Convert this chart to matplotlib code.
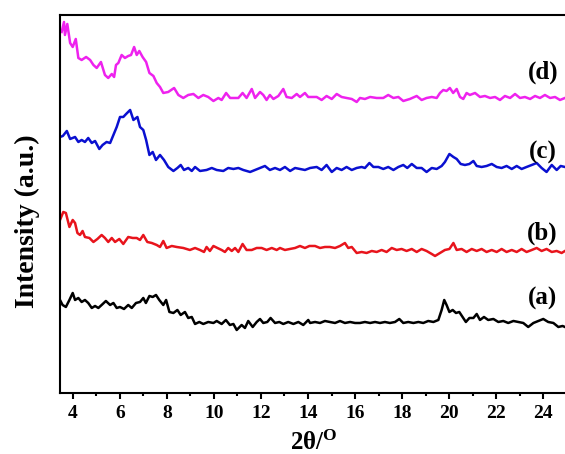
import matplotlib
matplotlib.use('Agg')
import matplotlib.pyplot as plt
from matplotlib.ticker import MultipleLocator
import numpy as np

# 数据: 2θ (度) 与强度 (a.u., 已加偏移)
a_2theta = [3.46, 3.57, 3.71, 3.86, 4.00, 4.10, 4.24, 4.38, 4.52, 4.66, 4.81, 4.95, 5.09, 5.23,
            5.41, 5.59, 5.73, 5.87, 6.01, 6.18, 6.36, 6.51, 6.69, 6.86, 7.00, 7.11, 7.26, 7.40,
            7.54, 7.68, 7.85, 7.97, 8.11, 8.28, 8.45, 8.59, 8.77, 8.91, 9.06, 9.20, 9.38, 9.55,
            9.76, 9.98, 10.12, 10.33, 10.51, 10.68, 10.83, 10.97, 11.18, 11.32, 11.46, 11.65,
            11.82, 11.96, 12.10, 12.27, 12.41, 12.60, 12.78, 12.95, 13.16, 13.38, 13.59, 13.80,
            14.01, 14.09, 14.30, 14.51, 14.72, 14.93, 15.15, 15.36, 15.57, 15.79, 16.00, 16.21,
            16.42, 16.64, 16.85, 17.06, 17.27, 17.48, 17.70, 17.88, 18.05, 18.26, 18.48, 18.69,
            18.90, 19.11, 19.33, 19.54, 19.68, 19.79, 19.89, 20.01, 20.15, 20.29, 20.43, 20.57,
            20.71, 20.86, 21.03, 21.17, 21.31, 21.48, 21.66, 21.88, 22.09, 22.30, 22.51, 22.73,
            22.94, 23.15, 23.36, 23.58, 23.79, 24.00, 24.21, 24.43, 24.64, 24.82, 24.92]
a_int = [93, 88, 86, 93, 100, 93, 95, 91, 93, 90, 85, 87, 85, 88,
         92, 88, 90, 85, 86, 84, 88, 85, 90, 91, 95, 90, 97, 96,
         98, 93, 88, 93, 81, 80, 83, 78, 81, 75, 76, 69, 71, 69,
         71, 70, 72, 69, 73, 68, 69, 63, 68, 65, 72, 66,
         71, 74, 70, 71, 75, 70, 71, 69, 71, 69, 71, 68,
         73, 70, 71, 70, 72, 71, 70, 72, 70, 71, 70, 70,
         71, 70, 71, 70, 71, 70, 71, 74, 70, 71, 70, 71,
         70, 72, 71, 73, 83, 93, 88, 81, 83, 80, 81, 76,
         71, 75, 75, 79, 73, 76, 73, 74, 71, 72, 70, 72,
         71, 70, 66, 70, 72, 74, 71, 70, 66, 67, 66]

b_2theta = [3.46, 3.60, 3.71, 3.86, 4.00, 4.10, 4.20, 4.31, 4.42, 4.52, 4.71, 4.88, 5.05, 5.23,
            5.37, 5.51, 5.66, 5.80, 5.98, 6.15, 6.36, 6.55, 6.72, 6.86, 7.00, 7.17, 7.36, 7.57,
            7.71, 7.85, 7.99, 8.21, 8.42, 8.70, 8.98, 9.20, 9.41, 9.58, 9.69, 9.83, 9.98, 10.15,
            10.33, 10.47, 10.61, 10.76, 10.90, 11.04, 11.22, 11.39, 11.61, 11.82, 12.03, 12.24,
            12.46, 12.67, 12.81, 13.02, 13.23, 13.45, 13.66, 13.87, 14.06, 14.30, 14.51, 14.72,
            14.93, 15.15, 15.36, 15.57, 15.71, 15.86, 16.07, 16.28, 16.49, 16.71, 16.92, 17.13,
            17.34, 17.56, 17.77, 17.98, 18.19, 18.41, 18.62, 18.83, 19.04, 19.26, 19.40, 19.61,
            19.82, 20.01, 20.18, 20.32, 20.53, 20.74, 20.96, 21.17, 21.38, 21.59, 21.81, 22.02,
            22.23, 22.44, 22.66, 22.87, 23.08, 23.29, 23.51, 23.72, 23.93, 24.14, 24.36, 24.57,
            24.78, 24.92]
b_int = [173, 181, 180, 166, 173, 170, 160, 158, 162, 156, 155, 151, 154, 158,
         155, 151, 155, 151, 154, 149, 156, 155, 155, 153, 158, 151, 150, 148,
         146, 152, 145, 147, 146, 145, 143, 145, 143, 141, 146, 142, 147, 145,
         143, 141, 145, 142, 145, 141, 149, 143, 143, 145, 145, 143,
         145, 143, 145, 143, 144, 145, 147, 145, 147, 147, 145, 146,
         146, 145, 147, 150, 145, 146, 140, 141, 140, 142, 141, 143,
         141, 145, 143, 144, 142, 144, 141, 144, 142, 139, 137, 140,
         143, 144, 150, 143, 144, 141, 144, 142, 144, 141, 143, 141,
         144, 141, 143, 141, 144, 141, 143, 145, 142, 144, 141, 142,
         140, 142]

c_2theta = [3.46, 3.58, 3.75, 3.89, 4.10, 4.24, 4.38, 4.52, 4.66, 4.81, 4.95, 5.13, 5.27, 5.44,
            5.59, 5.73, 5.87, 6.01, 6.15, 6.27, 6.44, 6.58, 6.75, 6.86, 7.00, 7.12, 7.26, 7.40,
            7.54, 7.71, 7.88, 8.06, 8.28, 8.45, 8.59, 8.73, 8.91, 9.06, 9.20, 9.41, 9.69, 9.91,
            10.12, 10.40, 10.61, 10.83, 11.04, 11.25, 11.54, 11.75, 11.96, 12.17, 12.38, 12.60,
            12.81, 13.02, 13.24, 13.45, 13.66, 13.87, 14.09, 14.37, 14.58, 14.79, 15.01, 15.22,
            15.43, 15.64, 15.86, 16.07, 16.28, 16.42, 16.61, 16.78, 16.99, 17.20, 17.41, 17.63,
            17.84, 18.05, 18.22, 18.41, 18.62, 18.83, 19.04, 19.26, 19.47, 19.68, 19.82, 20.01,
            20.18, 20.32, 20.49, 20.67, 20.86, 21.03, 21.17, 21.38, 21.59, 21.81, 22.02, 22.23,
            22.44, 22.66, 22.87, 23.08, 23.29, 23.51, 23.72, 23.93, 24.14, 24.36, 24.57, 24.74,
            24.92]
c_int = [256, 257, 262, 254, 256, 251, 253, 251, 255, 250, 252, 244, 248, 251,
         250, 258, 266, 276, 276, 279, 283, 273, 276, 266, 263, 253, 238, 241,
         233, 238, 233, 226, 222, 225, 228, 223, 225, 222, 226, 222, 223, 225,
         223, 222, 225, 224, 225, 223, 221, 223, 225, 227, 223, 225,
         223, 226, 222, 225, 224, 223, 225, 226, 223, 228, 221, 225,
         223, 226, 223, 225, 226, 225, 230, 226, 226, 224, 226, 223,
         226, 228, 225, 229, 225, 225, 221, 225, 224, 227, 231, 239,
         236, 234, 229, 228, 229, 232, 227, 226, 227, 229, 226, 225,
         227, 224, 227, 224, 226, 228, 230, 225, 221, 228, 223, 227,
         226]

d_2theta = [3.53, 3.63, 3.67, 3.77, 3.89, 4.00, 4.13, 4.24, 4.38, 4.57, 4.74, 4.88, 5.02, 5.20,
            5.37, 5.51, 5.66, 5.76, 5.84, 5.94, 6.08, 6.22, 6.36, 6.48, 6.61, 6.72, 6.83, 6.97,
            7.12, 7.26, 7.43, 7.57, 7.71, 7.85, 8.06, 8.31, 8.49, 8.70, 8.91, 9.13, 9.34, 9.55,
            9.76, 9.98, 10.19, 10.33, 10.52, 10.69, 10.90, 11.04, 11.22, 11.39, 11.61, 11.75,
            11.96, 12.10, 12.24, 12.38, 12.53, 12.74, 12.95, 13.09, 13.31, 13.52, 13.66, 13.87,
            14.01, 14.37, 14.58, 14.79, 15.01, 15.22, 15.43, 15.64, 15.86, 16.07, 16.21, 16.42,
            16.64, 16.92, 17.20, 17.41, 17.63, 17.84, 18.05, 18.33, 18.62, 18.83, 19.04, 19.26,
            19.47, 19.61, 19.75, 19.89, 20.03, 20.17, 20.32, 20.46, 20.60, 20.74, 20.88, 21.10,
            21.31, 21.52, 21.74, 21.95, 22.16, 22.37, 22.59, 22.80, 23.01, 23.22, 23.44, 23.65,
            23.86, 24.07, 24.29, 24.50, 24.71, 24.92]
d_int = [361, 371, 358, 369, 350, 346, 354, 335, 333, 336, 333, 328, 325, 331,
         318, 315, 319, 316, 328, 330, 338, 335, 337, 338, 346, 338, 342, 336,
         331, 320, 317, 310, 306, 300, 301, 305, 298, 295, 298, 299, 295, 298,
         296, 292, 295, 293, 300, 295, 295, 295, 300, 295, 304, 295,
         301, 298, 293, 298, 294, 297, 304, 296, 295, 299, 296, 300,
         296, 296, 293, 297, 294, 299, 296, 295, 294, 291, 295, 294,
         296, 295, 295, 298, 295, 296, 292, 294, 297, 293, 295, 296,
         295, 300, 303, 302, 305, 300, 304, 296, 294, 300, 298, 300,
         296, 297, 295, 296, 293, 297, 295, 299, 295, 296, 294, 297,
         295, 298, 295, 296, 293, 295]

labels = ['(a)', '(b)', '(c)', '(d)']
colors = ['#000000', '#E8141C', '#0A10D0', '#EE22EE']

# 字体: Times 风格粗体
plt.rcParams['font.family'] = ['Liberation Serif', 'DejaVu Serif']
plt.rcParams['font.weight'] = 'bold'
plt.rcParams['mathtext.fontset'] = 'custom'
plt.rcParams['mathtext.rm'] = 'Liberation Serif:bold'
plt.rcParams['mathtext.bf'] = 'Liberation Serif:bold'
plt.rcParams['mathtext.it'] = 'Liberation Serif:bold'

fig = plt.figure(figsize=(5.65, 4.54), dpi=100)
ax = fig.add_axes([0.1062, 0.1344, 0.897, 0.8326])

series = [(a_2theta, a_int), (b_2theta, b_int), (c_2theta, c_int), (d_2theta, d_int)]
for (x, y), c in zip(series, colors):
    ax.plot(np.array(x), np.array(y), color=c, linewidth=1.8)

# 曲线标签
label_pos = [(23.95, 95), (23.95, 160), (23.99, 241), (23.99, 321)]
for (lx, ly), txt in zip(label_pos, labels):
    ax.text(lx, ly, txt, fontsize=18, fontweight='bold', ha='center', va='center')

ax.set_xlim(3.46, 25)
ax.set_ylim(0, 378)
ax.xaxis.set_major_locator(MultipleLocator(2))
ax.xaxis.set_minor_locator(MultipleLocator(1))
ax.set_yticks([])

for side in ['left', 'bottom', 'top']:
    ax.spines[side].set_linewidth(1.5)
ax.spines['right'].set_visible(False)

ax.tick_params(axis='x', which='major', direction='out', length=4, width=1.5,
               labelsize=14, pad=5, top=False)
ax.tick_params(axis='x', which='minor', direction='out', length=2.5, width=1.5, top=False)

ax.set_ylabel('Intensity (a.u.)', fontsize=20, fontweight='bold')
ax.yaxis.set_label_coords(-0.04, 0.455)
ax.set_xlabel(r'2θ/$^{\mathrm{O}}$', fontsize=18, fontweight='bold', va='top')
ax.xaxis.set_label_coords(0.5, -0.1)

fig.savefig('out.png', dpi=100)
plt.close(fig)
